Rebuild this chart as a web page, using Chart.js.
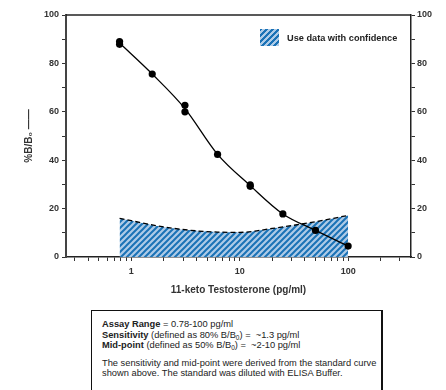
<!DOCTYPE html>
<html><head><meta charset="utf-8">
<script src="https://cdn.jsdelivr.net/npm/chart.js@4/dist/chart.umd.min.js"></script>
<style>
body{margin:0;background:#fff;width:446px;height:390px;overflow:hidden;position:relative;font-family:"Liberation Sans",Arial,sans-serif;}
#wrap{position:absolute;left:0;top:0;width:446px;height:300px;}
#legend{position:absolute;left:260px;top:29px;height:17px;display:flex;align-items:center;font-weight:bold;font-size:9.2px;color:#222;white-space:nowrap;}
#legend .patch{width:19px;height:17px;margin-right:8px;background:repeating-linear-gradient(135deg,#1a72b6 0 2px,#aecbe7 2px 4.24px);}
#box{position:absolute;left:91px;top:310px;width:292px;height:90px;border:1px solid #111;border-right-width:2px;box-sizing:border-box;padding:8px 0 0 10px;font-size:9.3px;line-height:10.5px;color:#222;white-space:nowrap;}
#box p{margin:0;}
#box p.gap{margin-top:7px;}
#box sub{font-size:6.5px;line-height:0;vertical-align:-2px;}
</style>
</head><body>
<div id="wrap"><canvas id="c" width="446" height="300"></canvas></div>
<div id="legend"><span class="patch"></span><span>Use data with confidence</span></div>
<div id="box">
<p><b>Assay Range</b> = 0.78-100 pg/ml</p>
<p><b>Sensitivity</b> (defined as 80% B/B<sub>0</sub>) = &nbsp;~1.3 pg/ml</p>
<p><b>Mid-point</b> (defined as 50% B/B<sub>0</sub>) = &nbsp;~2-10 pg/ml</p>
<p class="gap">The sensitivity and mid-point were derived from the standard curve</p>
<p>shown above. The standard was diluted with ELISA Buffer.</p>
</div>
<script>
// Standard points (replicates)
const concentrations = [0.78, 0.78, 1.56, 3.125, 3.125, 6.25, 12.5, 12.5, 25, 50, 100];
const percentBB0     = [89.0, 87.9, 75.6, 62.7, 60.0, 42.4, 29.8, 29.2, 17.8, 11.0, 4.5];
// Fitted curve
const curveX = [0.78, 1.56, 3.125, 6.25, 12.5, 25, 50, 100];
const curveY = [88.4, 75.6, 61.3, 42.4, 29.5, 17.8, 11.0, 4.5];
// Upper boundary of the "use data with confidence" region
const confX = [0.78, 1, 2, 4, 6.25, 10, 20, 50, 100];
const confY = [16.0, 15.0, 12.4, 10.8, 10.3, 10.2, 11.8, 14.6, 17.2];
// Tick values / labels
const xTickValues = [0.3,0.4,0.5,0.6,0.7,0.8,0.9,1,2,3,4,5,6,7,8,9,10,20,30,40,50,60,70,80,90,100,200,300];
const xTickLabels = {1:'1', 10:'10', 100:'100'};
const yTickValues = [0,10,20,30,40,50,60,70,80,90,100];
const yLabelled = [0,20,40,60,80,100];

const FONT = '"Liberation Sans", Arial, sans-serif';

function hatch(){
  const s = 6;
  const c = document.createElement('canvas'); c.width = c.height = s;
  const g = c.getContext('2d');
  g.fillStyle = '#aecbe7'; g.fillRect(0,0,s,s);
  g.strokeStyle = '#1a72b6'; g.lineWidth = 2;
  g.beginPath();
  g.moveTo(0,s); g.lineTo(s,0);
  g.moveTo(-2,2); g.lineTo(2,-2);
  g.moveTo(s-2,s+2); g.lineTo(s+2,s-2);
  g.stroke();
  return g.createPattern(c,'repeat');
}

const frame = {
  id:'frame',
  afterDatasetsDraw(chart){
    const {ctx, chartArea:a} = chart;
    ctx.save(); ctx.strokeStyle='#222'; ctx.lineWidth=1.5;
    ctx.beginPath(); ctx.moveTo(a.left, a.top); ctx.lineTo(a.right, a.top); ctx.stroke();
    ctx.restore();
  }
};

const yScale = (pos, width, border) => ({
  type:'linear', position:pos, min:0, max:100,
  afterBuildTicks: s => { s.ticks = yTickValues.map(v => ({value:v})); },
  ticks:{autoSkip:false, padding: pos==='left'?3:2, color:'#333',
    font:{family:FONT, size:9, weight:'bold'},
    callback: v => yLabelled.includes(v) ? String(v) : ''},
  grid:{drawOnChartArea:false, drawTicks:true, tickLength:4, color:'#333'},
  border:{display:true, color: pos==='left' ? '#444' : '#222', width:border},
  afterFit: s => { s.width = width; }
});

const yLeft = yScale('left', 66, 2);
yLeft.title = {display:true, text:'%B/B\u2080 \u2014\u2014', color:'#333',
  font:{family:FONT, size:10, weight:'bold'}, padding:{top:23, bottom:0}};
const yRight = yScale('right', 35, 1.5);

new Chart(document.getElementById('c'), {
  type:'scatter',
  data:{
    datasets:[
      {label:'points', data: concentrations.map((x,i)=>({x, y:percentBB0[i]})),
       pointRadius:3.6, pointBackgroundColor:'#000', pointBorderWidth:0, showLine:false, order:0},
      {label:'curve', data: curveX.map((x,i)=>({x, y:curveY[i]})),
       showLine:true, pointRadius:0, borderColor:'#000', borderWidth:1.3,
       cubicInterpolationMode:'monotone', order:1},
      {label:'Use data with confidence', data: confX.map((x,i)=>({x, y:confY[i]})),
       showLine:true, pointRadius:0, borderColor:'#000', borderWidth:1.3, borderDash:[5,3],
       cubicInterpolationMode:'monotone', fill:'origin', backgroundColor: hatch(), order:2}
    ]
  },
  options:{
    responsive:false, animation:false, events:[],
    layout:{padding:{top:15, left:0, right:0, bottom:0}},
    plugins:{legend:{display:false}, tooltip:{enabled:false}},
    scales:{
      x:{type:'logarithmic', position:'bottom', min:0.25, max:380,
        afterBuildTicks: s => { s.ticks = xTickValues.map(v => ({value:v})); },
        ticks:{autoSkip:false, maxRotation:0, padding:5, color:'#333',
          font:{family:FONT, size:9, weight:'bold'},
          callback: v => xTickLabels[v] || ''},
        grid:{drawOnChartArea:false, drawTicks:true, tickLength:4, color:'#333'},
        border:{display:true, color:'#222', width:1.5},
        title:{display:true, text:'11-keto Testosterone (pg/ml)', color:'#333',
          font:{family:FONT, size:10, weight:'bold'}, padding:{top:0, bottom:3.5}},
        afterFit: s => { s.height = 43; }
      },
      y: yLeft,
      y2: yRight
    }
  },
  plugins:[frame]
});
</script>
</body></html>
